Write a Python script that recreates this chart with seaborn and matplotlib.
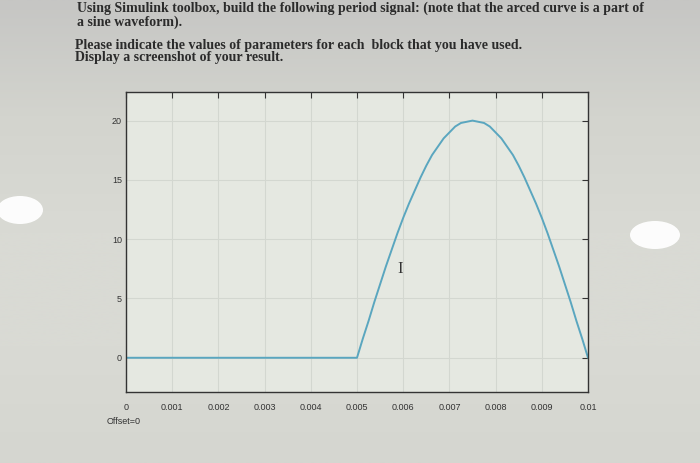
import numpy as np
import pandas as pd
import seaborn as sns
import matplotlib.pyplot as plt
from matplotlib.colors import LinearSegmentedColormap
from matplotlib.patches import Ellipse

# signal (time in s, amplitude)
time = [0.0, 0.005,
        0.005125, 0.00525, 0.005375, 0.0055, 0.005625, 0.00575, 0.005875, 0.006,
        0.006125, 0.00625, 0.006375, 0.0065, 0.006625, 0.00675, 0.006875, 0.007,
        0.007125, 0.00725, 0.007375, 0.0075, 0.007625, 0.00775, 0.007875, 0.008,
        0.008125, 0.00825, 0.008375, 0.0085, 0.008625, 0.00875, 0.008875, 0.009,
        0.009125, 0.00925, 0.009375, 0.0095, 0.009625, 0.00975, 0.009875, 0.01]
signal = [0.0, 0.0,
          1.6, 3.1, 4.7, 6.2, 7.7, 9.1, 10.5, 11.8,
          13.0, 14.1, 15.2, 16.2, 17.1, 17.8, 18.5, 19.0,
          19.5, 19.8, 19.9, 20.0, 19.9, 19.8, 19.5, 19.0,
          18.5, 17.8, 17.1, 16.2, 15.2, 14.1, 13.0, 11.8,
          10.5, 9.1, 7.7, 6.2, 4.7, 3.1, 1.6, 0.0]
x_ticks = [0, 0.001, 0.002, 0.003, 0.004, 0.005, 0.006, 0.007, 0.008, 0.009, 0.01]
x_labels = ['0', '0.001', '0.002', '0.003', '0.004', '0.005', '0.006', '0.007',
            '0.008', '0.009', '0.01']
y_ticks = [0, 5, 10, 15, 20]

header = ['Using Simulink toolbox, build the following period signal: (note that the arced curve is a part of',
          'a sine waveform).',
          'Please indicate the values of parameters for each  block that you have used.',
          'Display a screenshot of your result.']

df = pd.DataFrame({'t': time, 'y': signal})

sns.set_style('whitegrid')
plt.rcParams['font.family'] = ['Liberation Sans', 'DejaVu Sans']

fig = plt.figure(figsize=(7, 4.63), dpi=100)
fig.patch.set_facecolor('#d6d7d1')

# photo-ish background: darker strip at the top
bg = fig.add_axes([0, 0, 1, 1], zorder=-10)
grad = np.linspace(0, 1, 200).reshape(-1, 1)
cmap = LinearSegmentedColormap.from_list(
    'bg', ['#c6c6c4', '#d3d4ce', '#d9dad4', '#d9dad4', '#d5d6d0'])
bg.imshow(grad, aspect='auto', cmap=cmap, extent=[0, 1, 0, 1], origin='upper')
bg.axis('off')

ax = fig.add_axes([0.18, 0.153, 0.66, 0.648])
ax.set_facecolor('#e5e8e1')
sns.lineplot(data=df, x='t', y='y', ax=ax, color='#5aa6bf', linewidth=1.4)

ax.set_xlim(0, 0.01)
ax.set_ylim(-2.9, 22.4)
ax.set_xticks(x_ticks)
ax.set_xticklabels(x_labels)
ax.set_yticks(y_ticks)
ax.set_xlabel('')
ax.set_ylabel('')
ax.grid(True, color='#d3d7d0', linewidth=0.8)
ax.tick_params(direction='in', length=4, width=0.8, colors='#333333',
               labelsize=6.5, top=True, right=True, pad=8)
ax.tick_params(axis='y', pad=3)
for s in ax.spines.values():
    s.set_color('#333333')
    s.set_linewidth(1.0)

# mouse cursor captured in the photo
ax.text(0.00593, 7.5, 'I', fontsize=12, family='Liberation Serif',
        color='#333333', ha='center', va='center')

fig.text(107 / 700, 1 - 422 / 463, 'Offset=0', fontsize=6.5, color='#333333',
         ha='left', va='center')

ys = [8, 22, 45, 58]
xs = [77, 77, 75, 75]
for txt, yy, xx in zip(header, ys, xs):
    fig.text(xx / 700, 1 - yy / 463, txt, fontsize=10, family='Liberation Serif',
             weight='bold', color='#2b2b2b', ha='left', va='center')

# screen glare spots
fig.patches.append(Ellipse((20 / 700, 1 - 210 / 463), 46 / 700, 28 / 463,
                           transform=fig.transFigure, facecolor='white',
                           edgecolor='none', alpha=0.95))
fig.patches.append(Ellipse((655 / 700, 1 - 235 / 463), 50 / 700, 28 / 463,
                           transform=fig.transFigure, facecolor='white',
                           edgecolor='none', alpha=0.95))

fig.savefig('out.png', dpi=100, facecolor=fig.get_facecolor())
